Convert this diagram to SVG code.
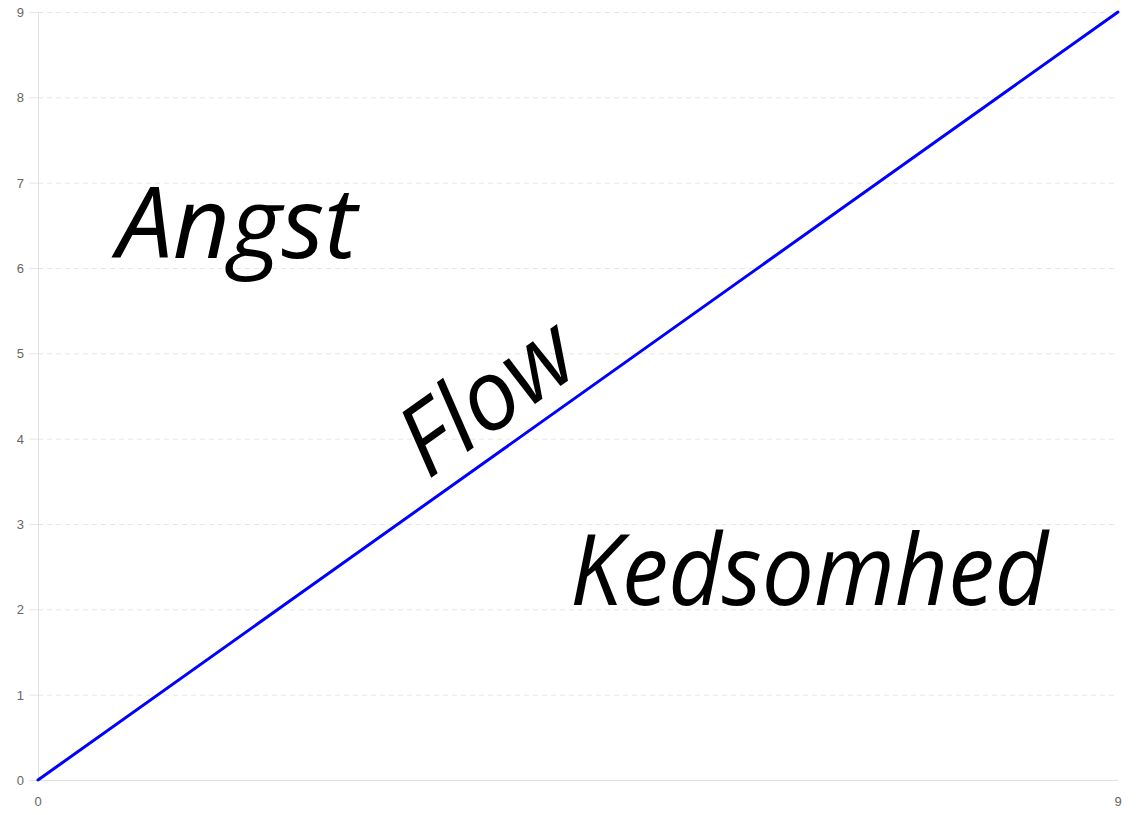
<svg xmlns="http://www.w3.org/2000/svg" width="1140" height="815" viewBox="0 0 1140 815">
<style>
.grid{stroke:#e6e6e6;stroke-width:1;stroke-dasharray:5,4}
.tick{stroke:#e6e6e6;stroke-width:1}
.axis{stroke:#e0e0e0;stroke-width:1}
.lbl{font-family:"Liberation Sans",Arial,sans-serif;font-size:13px;fill:#666}
.big{font-family:"Open Sans","Noto Sans","DejaVu Sans",sans-serif;font-style:italic;font-weight:400;font-size:98px;fill:#000}
</style>
<rect width="1140" height="815" fill="#fff"/>
<g id="grid">
<line class="grid" x1="38" y1="12.5" x2="1118" y2="12.5"/>
<line class="grid" x1="38" y1="97.8" x2="1118" y2="97.8"/>
<line class="grid" x1="38" y1="183.2" x2="1118" y2="183.2"/>
<line class="grid" x1="38" y1="268.5" x2="1118" y2="268.5"/>
<line class="grid" x1="38" y1="353.8" x2="1118" y2="353.8"/>
<line class="grid" x1="38" y1="439.2" x2="1118" y2="439.2"/>
<line class="grid" x1="38" y1="524.5" x2="1118" y2="524.5"/>
<line class="grid" x1="38" y1="609.8" x2="1118" y2="609.8"/>
<line class="grid" x1="38" y1="695.2" x2="1118" y2="695.2"/>
<line class="tick" x1="29" y1="12.5" x2="38" y2="12.5"/>
<line class="tick" x1="29" y1="97.8" x2="38" y2="97.8"/>
<line class="tick" x1="29" y1="183.2" x2="38" y2="183.2"/>
<line class="tick" x1="29" y1="268.5" x2="38" y2="268.5"/>
<line class="tick" x1="29" y1="353.8" x2="38" y2="353.8"/>
<line class="tick" x1="29" y1="439.2" x2="38" y2="439.2"/>
<line class="tick" x1="29" y1="524.5" x2="38" y2="524.5"/>
<line class="tick" x1="29" y1="609.8" x2="38" y2="609.8"/>
<line class="tick" x1="29" y1="695.2" x2="38" y2="695.2"/>
<line class="tick" x1="29" y1="780.5" x2="38" y2="780.5"/>
<line class="axis" x1="38.5" y1="12" x2="38.5" y2="781"/>
<line class="axis" x1="38" y1="780.5" x2="1118" y2="780.5"/>
</g>
<g id="axis-labels">
<text class="lbl" x="24" y="17" text-anchor="end">9</text>
<text class="lbl" x="24" y="102.3" text-anchor="end">8</text>
<text class="lbl" x="24" y="187.7" text-anchor="end">7</text>
<text class="lbl" x="24" y="273" text-anchor="end">6</text>
<text class="lbl" x="24" y="358.3" text-anchor="end">5</text>
<text class="lbl" x="24" y="443.7" text-anchor="end">4</text>
<text class="lbl" x="24" y="529" text-anchor="end">3</text>
<text class="lbl" x="24" y="614.3" text-anchor="end">2</text>
<text class="lbl" x="24" y="699.7" text-anchor="end">1</text>
<text class="lbl" x="24" y="785" text-anchor="end">0</text>
<text class="lbl" x="38" y="806" text-anchor="middle">0</text>
<text class="lbl" x="1118" y="806" text-anchor="middle">9</text>
</g>
<g id="connectors">
<line x1="38" y1="780" x2="1118" y2="12" stroke="#0000ff" stroke-width="3" stroke-linecap="round"/>
</g>
<g id="node-angst">
<text class="big" x="117" y="258" textLength="240" lengthAdjust="spacingAndGlyphs">Angst</text>
</g>
<g id="node-flow">
<text class="big" transform="translate(428,480) rotate(-35.4)" x="0" y="0" font-size="94" textLength="192" lengthAdjust="spacingAndGlyphs">Flow</text>
</g>
<g id="node-kedsomhed">
<text class="big" x="570" y="605" textLength="478" lengthAdjust="spacingAndGlyphs">Kedsomhed</text>
</g>
</svg>
